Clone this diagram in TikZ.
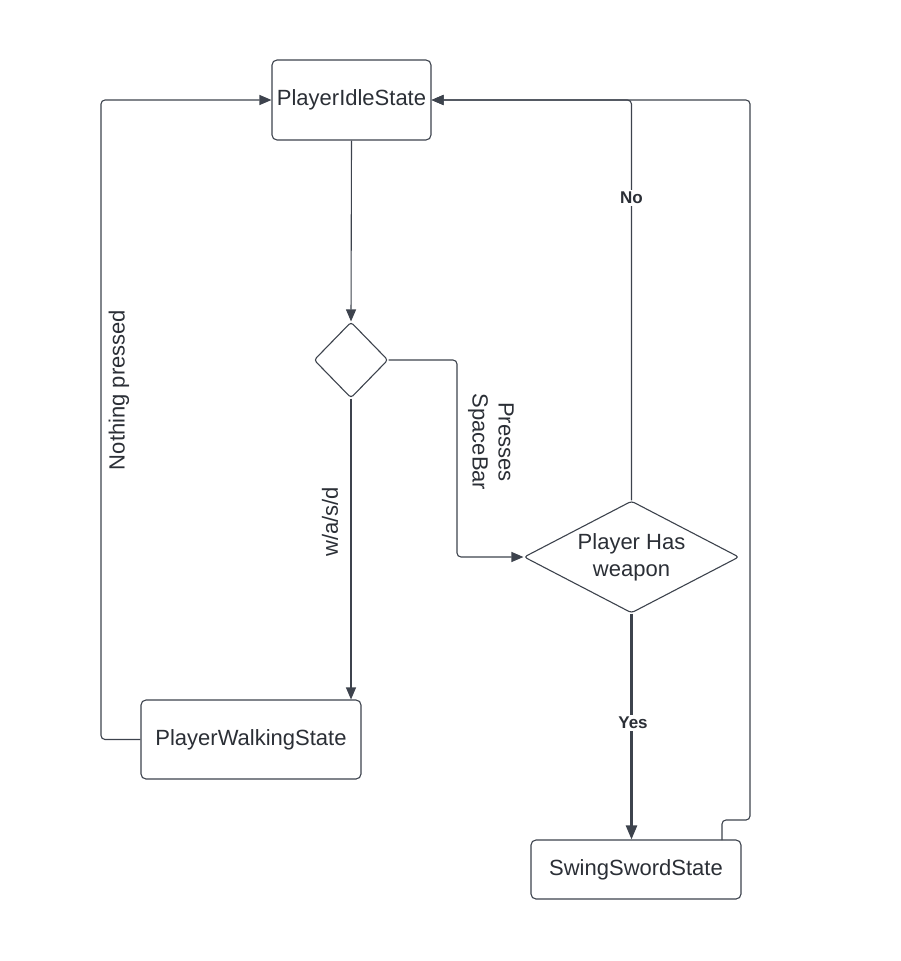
\documentclass[tikz,border=0pt]{standalone}
\usepackage{fontspec}
\setmainfont{Liberation Sans}
\usetikzlibrary{arrows.meta,shapes.geometric}
\definecolor{ln}{HTML}{3D434D}
\definecolor{tx}{HTML}{2B2F36}
\tikzset{
  stbox/.style={draw=ln, line width=1.1pt, rounded corners=5pt, fill=white, text=tx,
    font=\fontsize{22}{26}\selectfont, inner sep=0pt},
  dia/.style={draw=ln, line width=1.1pt, diamond, rounded corners=3pt, fill=white, text=tx,
    inner sep=0pt, align=center, font=\fontsize{22}{27}\selectfont},
  conn/.style={draw=ln, line width=1.1pt, rounded corners=4pt, -{Triangle[length=12pt,width=10pt]}},
  thk/.style={draw=ln, line width=2.4pt, -{Triangle[length=14pt,width=11pt]}},
  lbl/.style={text=tx, font=\fontsize{22}{26}\selectfont, align=center, inner sep=1pt},
  blbl/.style={text=tx, font=\bfseries\fontsize{17}{20}\selectfont, fill=white, inner sep=2pt},
}
\begin{document}
\begin{tikzpicture}[x=1pt,y=-1pt]
\useasboundingbox (0,0) rectangle (901,961);
% nodes
\node[stbox, minimum width=159pt, minimum height=80pt] (idle) at (351.5,100) {PlayerIdleState};
\node[dia, minimum width=74pt, minimum height=76pt] (d) at (351,360) {};
\node[dia, aspect=1.92, minimum width=215pt, minimum height=112pt] (hw) at (631.5,557) {Player Has\\weapon};
\node[stbox, minimum width=220pt, minimum height=79pt] (walk) at (251,739.5) {PlayerWalkingState};
\node[stbox, minimum width=210pt, minimum height=59pt] (swing) at (636,869.5) {SwingSwordState};
% helper coordinates
\coordinate (c1) at (457,360);
\coordinate (c2) at (457,557);
\coordinate (n1) at (631.5,100);
\coordinate (w1) at (101,739.5);
\coordinate (w2) at (101,100);
\coordinate (s0) at (722,840);
\coordinate (s1) at (722,820);
\coordinate (s2) at (750,820);
\coordinate (s3) at (750,100);
% connectors
\draw[conn] (idle.south) -- (d.north);
\draw[conn] (d.south) -- (walk.north -| d.south);
\draw[conn] (d.east) -- (c1) -- (c2) -- (hw.west);
\draw[conn] (hw.north) -- (n1) -- (idle.east);
\draw[conn] (s0) -- (s1) -- (s2) -- (s3) -- (idle.east);
\draw[conn] (walk.west) -- (w1) -- (w2) -- (idle.west);
\draw[thk] (hw.south) -- (hw.south |- swing.north);
% labels
\node[lbl, rotate=90] (lw) at (330,522) {w/a/s/d};
\node[lbl, rotate=-90] (lp) at (491,442) {Presses\\SpaceBar};
\node[lbl, rotate=90] (ln) at (119,390) {Nothing pressed};
\node[blbl] (lno) at (631.5,198) {No};
\node[blbl] (lyes) at (633,723) {Yes};
\end{tikzpicture}
\end{document}
